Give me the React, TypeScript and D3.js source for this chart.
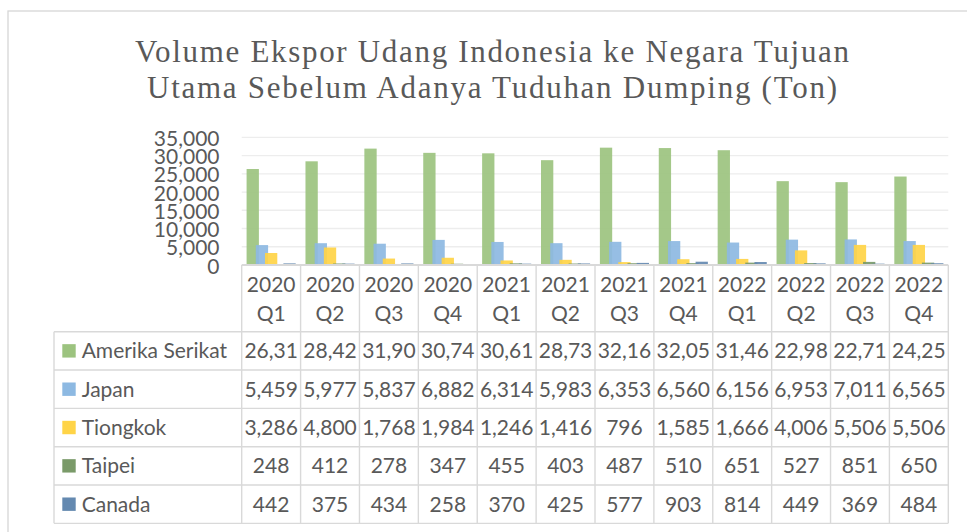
import React from 'react';
import * as d3 from 'd3';

// chart data (Ton)
const periods = ['2020 Q1', '2020 Q2', '2020 Q3', '2020 Q4', '2021 Q1', '2021 Q2', '2021 Q3', '2021 Q4', '2022 Q1', '2022 Q2', '2022 Q3', '2022 Q4'];
const amerikaSerikat = [26310, 28420, 31900, 30740, 30610, 28730, 32160, 32050, 31460, 22980, 22710, 24250];
const japan = [5459, 5977, 5837, 6882, 6314, 5983, 6353, 6560, 6156, 6953, 7011, 6565];
const tiongkok = [3286, 4800, 1768, 1984, 1246, 1416, 796, 1585, 1666, 4006, 5506, 5506];
const taipei = [248, 412, 278, 347, 455, 403, 487, 510, 651, 527, 851, 650];
const canada = [442, 375, 434, 258, 370, 425, 577, 903, 814, 449, 369, 484];
const yTicks = [0, 5000, 10000, 15000, 20000, 25000, 30000, 35000];

const series = [
  { name: 'Amerika Serikat', values: amerikaSerikat, color: '#9cc37f' },
  { name: 'Japan', values: japan, color: '#8db9e2' },
  { name: 'Tiongkok', values: tiongkok, color: '#ffd447' },
  { name: 'Taipei', values: taipei, color: '#7a9a69' },
  { name: 'Canada', values: canada, color: '#6489b0' },
];

const W = 967;
const H = 532;
const plotLeft = 241.7;
const plotRight = 948.3;
const plotTop = 137.3;
const plotBottom = 265;
const headerBottom = 331.7;
const rowH = 38.33;
const legendLeft = 54;
const textColor = '#595959';
const lineColor = '#d9d9d9';
const sans = 'Lato, "Open Sans", sans-serif';

const fmt = d3.format(',');

export default function App() {
  const x = d3.scaleBand().domain(periods).range([plotLeft, plotRight]);
  const y = d3.scaleLinear().domain([0, 35000]).range([plotBottom, plotTop]);
  const bw = x.bandwidth();

  // overlapping clustered bars, like the Excel chart
  const barW = 12.3;
  const barStep = 9.2;
  const pad = (bw - (barW + barStep * (series.length - 1))) / 2;

  const tableBottom = headerBottom + rowH * series.length;

  return (
    <svg width={W} height={H} style={{ position: 'absolute', left: 0, top: 0, background: '#fff' }}>
      <rect x={8} y={11} width={W + 20} height={H + 20} fill="#fff" stroke="#d6d6d6" strokeWidth={1.3} />

      <g fill={textColor} fontFamily='"Liberation Serif", "Times New Roman", serif' fontSize={31} textAnchor="middle">
        <text x={492} y={61.5} textLength={714} lengthAdjust="spacing">Volume Ekspor Udang Indonesia ke Negara Tujuan</text>
        <text x={492} y={98.3} textLength={690} lengthAdjust="spacing">Utama Sebelum Adanya Tuduhan Dumping (Ton)</text>
      </g>

      {/* gridlines */}
      <g>
        {yTicks.filter(t => t > 0).map(t => (
          <line key={t} x1={plotLeft} x2={plotRight} y1={y(t)} y2={y(t)} stroke="#ededed" strokeWidth={1.3} />
        ))}
      </g>

      {/* y tick labels */}
      <g fill={textColor} fontFamily={sans} fontSize={21} textAnchor="end">
        {yTicks.map(t => (
          <text key={t} x={219.5} y={y(t) + 8.5}>{fmt(t)}</text>
        ))}
      </g>

      {/* bars */}
      <g>
        {series.map((s, si) => (
          <g key={s.name} fill={s.color} fillOpacity={0.92}>
            {s.values.map((v, i) => (
              <rect key={i} x={(x(periods[i]) as number) + pad + si * barStep} y={y(v)} width={barW} height={plotBottom - y(v)} />
            ))}
          </g>
        ))}
      </g>

      {/* axis line */}
      <line x1={plotLeft} x2={plotRight} y1={plotBottom} y2={plotBottom} stroke={lineColor} strokeWidth={2} />

      {/* data table */}
      <g stroke={lineColor} strokeWidth={1.4}>
        {periods.map((p, i) => (
          <line key={p} x1={x(p)} x2={x(p)} y1={plotBottom} y2={tableBottom} />
        ))}
        <line x1={plotRight} x2={plotRight} y1={plotBottom} y2={tableBottom} />
        <line x1={legendLeft} x2={legendLeft} y1={headerBottom} y2={tableBottom} />
        {d3.range(series.length + 1).map(r => (
          <line key={r} x1={legendLeft} x2={plotRight} y1={headerBottom + r * rowH} y2={headerBottom + r * rowH} />
        ))}
      </g>

      <g fill={textColor} fontFamily={sans} fontSize={21} textAnchor="middle">
        {periods.map(p => {
          const [yr, q] = p.split(' ');
          const cx = (x(p) as number) + bw / 2;
          return (
            <g key={p}>
              <text x={cx} y={291.7}>{yr}</text>
              <text x={cx} y={321}>{q}</text>
            </g>
          );
        })}
      </g>

      {series.map((s, si) => {
        const cy = headerBottom + si * rowH + rowH / 2;
        return (
          <g key={s.name} fontFamily={sans} fontSize={21} fill={textColor}>
            <rect x={62.3} y={cy - 6.7} width={13.4} height={13.4} fill={s.color} />
            <text x={81.7} y={cy + 7.5}>{s.name}</text>
            {s.values.map((v, i) => {
              // cell is too narrow for 5 digits, Excel clips the text
              const label = fmt(v).slice(0, 5);
              return (
                <text key={i} x={(x(periods[i]) as number) + bw / 2} y={cy + 7.5} textAnchor="middle">{label}</text>
              );
            })}
          </g>
        );
      })}
    </svg>
  );
}
